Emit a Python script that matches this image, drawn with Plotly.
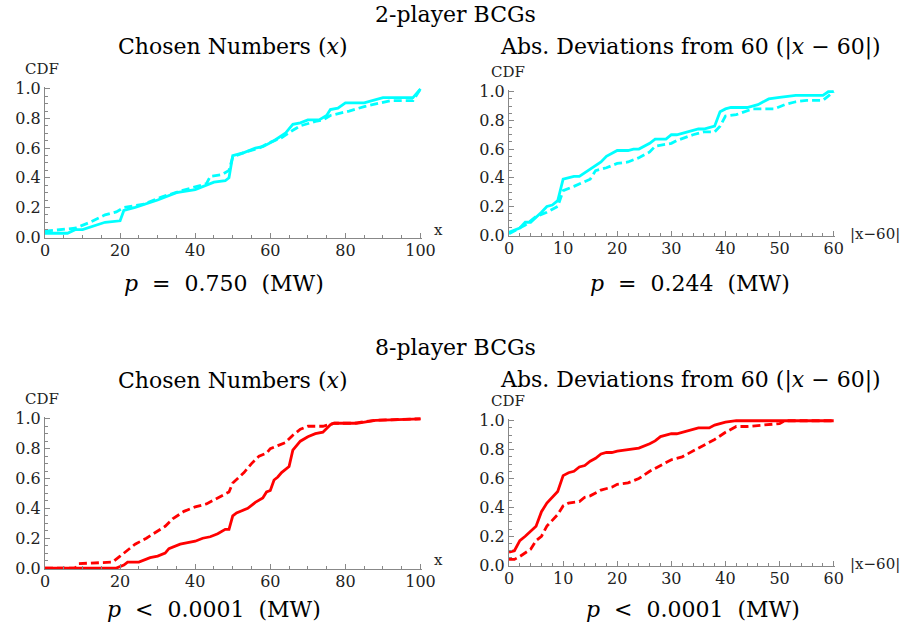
import plotly.graph_objects as go

# ---------------- data ----------------
# 2-player, chosen numbers
p2_x_solid = [0, 6, 8, 10, 16, 20, 21, 24, 30, 35, 40, 43, 45, 48, 49, 50, 53, 56, 58, 61, 64, 66, 68, 70, 73, 75, 76, 78, 80, 85, 87, 89, 90, 98, 100]
p2_y_solid = [0.026, 0.026, 0.05, 0.05, 0.10, 0.11, 0.18, 0.20, 0.25, 0.30, 0.32, 0.35, 0.37, 0.38, 0.40, 0.55, 0.57, 0.60, 0.61, 0.65, 0.70, 0.76, 0.77, 0.79, 0.79, 0.82, 0.86, 0.87, 0.905, 0.905, 0.92, 0.93, 0.94, 0.94, 1.0]
p2_x_dash = [0, 5, 8, 12, 16, 19, 21, 26, 31, 36, 40, 43, 44, 47, 49, 50, 53, 57, 60, 63, 66, 68, 72, 74, 76, 78, 81, 85, 89, 92, 98, 100]
p2_y_dash = [0.04, 0.05, 0.06, 0.10, 0.15, 0.17, 0.20, 0.22, 0.27, 0.31, 0.34, 0.36, 0.41, 0.42, 0.45, 0.54, 0.57, 0.60, 0.64, 0.67, 0.72, 0.75, 0.78, 0.79, 0.82, 0.83, 0.85, 0.88, 0.90, 0.92, 0.92, 1.0]

# 2-player, absolute deviations
p2d_x_solid = [0, 2, 3, 4, 6, 7, 8, 9, 10, 12, 13, 15, 16, 17, 18, 20, 22, 23, 24, 26, 27, 29, 30, 31, 33, 34, 35, 36, 38, 39, 40, 41, 44, 46, 48, 50, 53, 58, 59, 60]
p2d_y_solid = [0.02, 0.05, 0.09, 0.09, 0.16, 0.20, 0.21, 0.24, 0.39, 0.41, 0.41, 0.46, 0.49, 0.51, 0.55, 0.59, 0.59, 0.60, 0.60, 0.64, 0.67, 0.67, 0.70, 0.70, 0.72, 0.73, 0.74, 0.74, 0.76, 0.86, 0.88, 0.89, 0.89, 0.91, 0.95, 0.96, 0.975, 0.975, 1.0, 1.0]
p2d_x_dash = [0, 3, 5, 7, 9, 10, 12, 15, 16, 18, 20, 22, 24, 26, 27, 29, 30, 31, 34, 36, 38, 39, 40, 42, 44, 45, 49, 51, 53, 55, 58, 60]
p2d_y_dash = [0.01, 0.07, 0.13, 0.16, 0.20, 0.31, 0.34, 0.39, 0.45, 0.47, 0.50, 0.51, 0.54, 0.58, 0.62, 0.63, 0.64, 0.66, 0.70, 0.72, 0.72, 0.76, 0.83, 0.84, 0.87, 0.88, 0.88, 0.91, 0.93, 0.94, 0.94, 1.0]

# 8-player, chosen numbers
p8_x_solid = [0, 19, 21, 22, 25, 28, 30, 32, 33, 35, 36, 38, 40, 42, 44, 46, 48, 49, 50, 51, 54, 56, 58, 59, 60, 61, 62, 63, 65, 66, 68, 70, 72, 74, 76, 77, 83, 88, 100]
p8_y_solid = [0, 0, 0.02, 0.04, 0.04, 0.07, 0.08, 0.10, 0.13, 0.15, 0.16, 0.17, 0.18, 0.20, 0.21, 0.23, 0.26, 0.26, 0.35, 0.37, 0.40, 0.44, 0.47, 0.51, 0.52, 0.59, 0.61, 0.64, 0.68, 0.79, 0.85, 0.88, 0.90, 0.91, 0.96, 0.97, 0.97, 0.99, 1.0]
p8_x_dash = [0, 8, 9, 16, 18, 20, 22, 24, 27, 30, 32, 34, 37, 40, 43, 46, 49, 50, 53, 55, 57, 59, 60, 62, 64, 66, 68, 70, 74, 77, 82, 88, 100]
p8_y_dash = [0, 0, 0.03, 0.04, 0.04, 0.08, 0.12, 0.16, 0.20, 0.25, 0.28, 0.33, 0.38, 0.41, 0.43, 0.47, 0.51, 0.57, 0.64, 0.70, 0.75, 0.77, 0.80, 0.82, 0.84, 0.89, 0.93, 0.95, 0.95, 0.97, 0.97, 0.99, 1.0]

# 8-player, absolute deviations
p8d_x_solid = [0, 1, 2, 3, 5, 6, 7, 9, 10, 11, 12, 13, 14, 15, 16, 17, 18, 19, 20, 22, 24, 26, 27, 28, 30, 31, 33, 35, 37, 38, 40, 42, 60]
p8d_y_solid = [0.09, 0.10, 0.17, 0.20, 0.27, 0.37, 0.43, 0.51, 0.62, 0.64, 0.65, 0.68, 0.69, 0.72, 0.74, 0.77, 0.78, 0.78, 0.79, 0.80, 0.81, 0.84, 0.86, 0.89, 0.91, 0.91, 0.93, 0.95, 0.95, 0.97, 0.99, 1.0, 1.0]
p8d_x_dash = [0, 1, 2, 4, 5, 6, 7, 9, 10, 11, 13, 14, 15, 17, 19, 20, 22, 24, 26, 28, 30, 32, 34, 36, 38, 40, 42, 44, 48, 50, 51, 60]
p8d_y_dash = [0.04, 0.04, 0.06, 0.11, 0.17, 0.20, 0.27, 0.35, 0.41, 0.43, 0.44, 0.47, 0.48, 0.52, 0.54, 0.56, 0.57, 0.60, 0.65, 0.69, 0.73, 0.75, 0.79, 0.83, 0.87, 0.92, 0.96, 0.96, 0.97, 0.98, 1.0, 1.0]

y_tickvals = [0, 0.2, 0.4, 0.6, 0.8, 1.0]
y_ticktext = ["0.0", "0.2", "0.4", "0.6", "0.8", "1.0"]

CYAN = "#00FFFF"
RED = "#FF0000"
W, H = 909, 631


def fx(px):
    return px / W


def fy(py):
    return 1 - py / H


# panel pixel boxes in window coords: (left, right, top, bottom)
boxes = {
    1: (45, 422, 87, 238),
    2: (509, 835, 90, 236),
    3: (45, 422, 417, 569),
    4: (509, 835, 419, 566),
}

fig = go.Figure()

series = [
    (1, p2_x_solid, p2_y_solid, CYAN, "solid"),
    (1, p2_x_dash, p2_y_dash, CYAN, "8px,4px"),
    (2, p2d_x_solid, p2d_y_solid, CYAN, "solid"),
    (2, p2d_x_dash, p2d_y_dash, CYAN, "8px,4px"),
    (3, p8_x_solid, p8_y_solid, RED, "solid"),
    (3, p8_x_dash, p8_y_dash, RED, "8px,4px"),
    (4, p8d_x_solid, p8d_y_solid, RED, "solid"),
    (4, p8d_x_dash, p8d_y_dash, RED, "8px,4px"),
]
for k, xs, ys, col, dash in series:
    suf = "" if k == 1 else str(k)
    fig.add_trace(go.Scatter(x=xs, y=ys, mode="lines", xaxis="x" + suf, yaxis="y" + suf,
                             line=dict(color=col, width=2.8, dash=dash), showlegend=False,
                             hoverinfo="skip"))

SERIF = "DejaVu Serif, Liberation Serif, serif"
TICKFONT = dict(family=SERIF, size=16, color="#222")
AXCOL = "#888888"
layout = dict(width=W, height=H, margin=dict(l=0, r=0, t=0, b=0, pad=0), autosize=False,
              paper_bgcolor="white", plot_bgcolor="white", showlegend=False)
for k, (l, r, t, b) in boxes.items():
    suf = "" if k == 1 else str(k)
    xmax = 100 if k in (1, 3) else 60
    xdt = 20 if k in (1, 3) else 10
    xmin_dt = 5 if k in (1, 3) else 2
    layout["xaxis" + suf] = dict(
        domain=[fx(l), fx(r)], anchor="y" + suf, range=[0, xmax * 1.004], automargin=False,
        tickmode="linear", tick0=0, dtick=xdt, ticks="inside", ticklen=5, tickwidth=1,
        tickcolor=AXCOL, showline=True, linecolor=AXCOL, linewidth=1.2, showgrid=False,
        zeroline=False, tickfont=TICKFONT, ticklabelstandoff=-2,
        minor=dict(dtick=xmin_dt, tick0=0, ticks="inside", ticklen=3, tickcolor=AXCOL, showgrid=False),
    )
    layout["yaxis" + suf] = dict(
        domain=[fy(b), fy(t)], anchor="x" + suf, range=[-0.006, 1.012], automargin=False,
        tickmode="array", tickvals=y_tickvals, ticktext=y_ticktext, ticks="inside", ticklen=5,
        tickwidth=1, tickcolor=AXCOL, showline=True, linecolor=AXCOL, linewidth=1.2,
        showgrid=False, zeroline=False, tickfont=TICKFONT, ticklabelstandoff=0,
        minor=dict(tickvals=[i * 0.05 for i in range(21)], ticks="inside", ticklen=3, tickcolor=AXCOL, showgrid=False),
    )
fig.update_layout(**layout)

TFONT = dict(family=SERIF, size=22, color="black")
LFONT = dict(family=SERIF, size=15, color="#222")


def ann(text, x, y, font, xanchor="center"):
    fig.add_annotation(text=text, x=fx(x), y=fy(y), xref="paper", yref="paper",
                       showarrow=False, font=font, xanchor=xanchor, yanchor="middle")


ann("2-player BCGs", 455, 14, TFONT)
ann("Chosen Numbers (<i>x</i>)", 233, 47, TFONT)
ann("Abs. Deviations from 60 (|<i>x</i> − 60|)", 690, 47, TFONT)
ann("<i>p</i>&nbsp; =&nbsp; 0.750&nbsp; (MW)", 224, 283, TFONT)
ann("<i>p</i>&nbsp; =&nbsp; 0.244&nbsp; (MW)", 690, 283, TFONT)
ann("8-player BCGs", 455, 347, TFONT)
ann("Chosen Numbers (<i>x</i>)", 233, 380, TFONT)
ann("Abs. Deviations from 60 (|<i>x</i> − 60|)", 690, 380, TFONT)
ann("<i>p</i>&nbsp; &lt;&nbsp; 0.0001&nbsp; (MW)", 214, 609, TFONT)
ann("<i>p</i>&nbsp; &lt;&nbsp; 0.0001&nbsp; (MW)", 693, 609, TFONT)

for cx, cy in [(42, 69), (508, 72), (42, 399), (508, 401)]:
    ann("CDF", cx, cy, LFONT)
ann("x", 438, 230, LFONT)
ann("x", 438, 560, LFONT)
ann("|x−60|", 875, 234, LFONT)
ann("|x−60|", 875, 564, LFONT)

fig.write_html("out.html", config={"displayModeBar": False},
               post_script="document.body.style.margin='0';")
